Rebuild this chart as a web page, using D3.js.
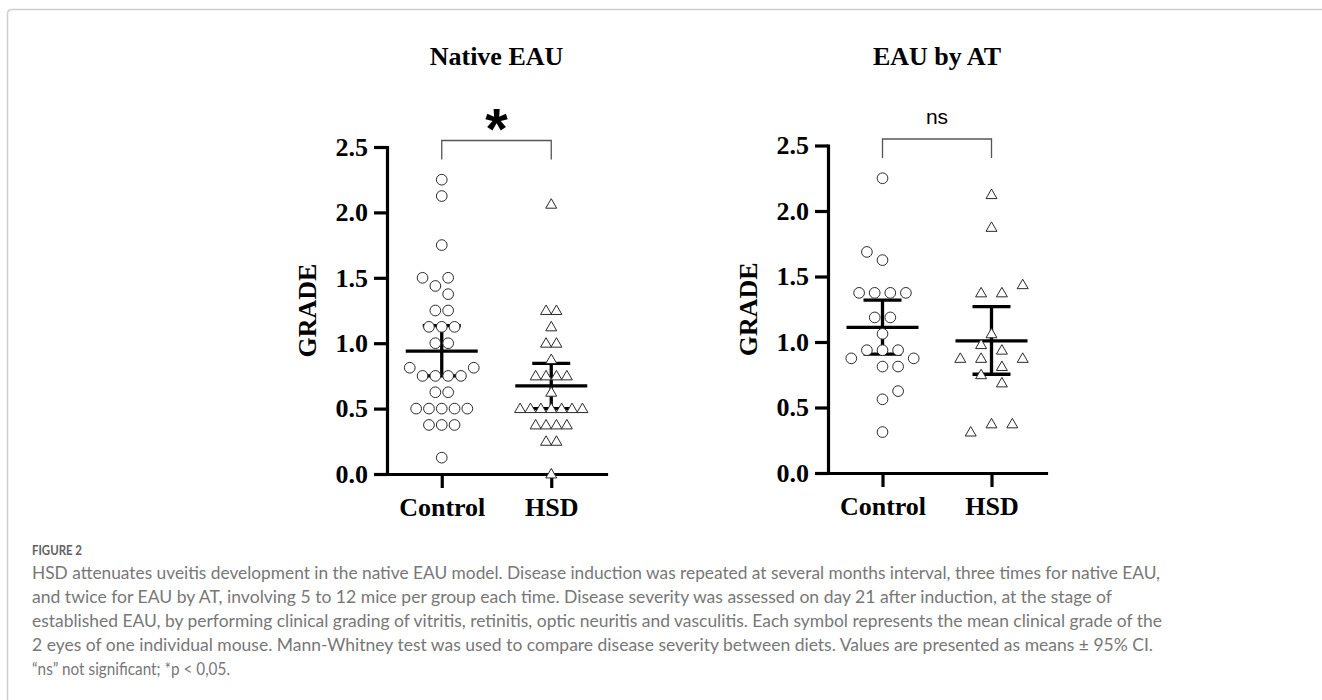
<!DOCTYPE html>
<html>
<head>
<meta charset="utf-8">
<script src="https://cdn.jsdelivr.net/npm/d3@7"></script>
<style>
  html, body { margin: 0; padding: 0; background: #fff; }
  #fig { width: 1322px; height: 700px; }
</style>
</head>
<body>
<div id="fig"></div>
<script>
// Scatter-dot plots of EAU clinical grade, Control vs HSD, two models side by side

const groups = ['Control', 'HSD'];
const yTicks = [0, 0.5, 1.0, 1.5, 2.0, 2.5];
const panelTitles = ['Native EAU', 'EAU by AT'];
const sigLabels = ['*', 'ns'];

// each point: [grade, column slot in the dot stack]
const nativeControl = [
  [2.25, 0], [2.125, 0], [1.75, 0],
  [1.5, -3], [1.5, 1], [1.4375, -1], [1.375, 1],
  [1.25, -1], [1.25, 1],
  [1.125, -2], [1.125, 0], [1.125, 2],
  [1.0, -1], [1.0, 1],
  [0.8125, -5], [0.8125, 5],
  [0.75, -3], [0.75, -1], [0.75, 1], [0.75, 3],
  [0.625, -1], [0.625, 1],
  [0.5, -4], [0.5, -2], [0.5, 0], [0.5, 2], [0.5, 4],
  [0.375, -2], [0.375, 0], [0.375, 2],
  [0.125, 0]
];
const nativeHSD = [
  [2.0625, 0],
  [1.25, -1], [1.25, 1],
  [1.125, 0],
  [1.0, -1], [1.0, 1],
  [0.875, 0],
  [0.75, -3], [0.75, -1], [0.75, 1], [0.75, 3],
  [0.625, 0],
  [0.5, -6], [0.5, -4], [0.5, -2], [0.5, 0], [0.5, 2], [0.5, 4], [0.5, 6],
  [0.375, -3], [0.375, -1], [0.375, 1], [0.375, 3],
  [0.25, -1], [0.25, 1],
  [0.0, 0]
];
const atControl = [
  [2.25, 0], [1.6875, -2], [1.625, 0],
  [1.375, -3], [1.375, -1], [1.375, 1], [1.375, 3],
  [1.1875, -1], [1.1875, 1],
  [1.0625, 0],
  [0.9375, -2], [0.9375, 0], [0.9375, 2],
  [0.875, -4], [0.875, 4],
  [0.8125, 0], [0.8125, 2],
  [0.625, 2], [0.5625, 0], [0.3125, 0]
];
const atHSD = [
  [2.125, 0], [1.875, 0], [1.4375, 3],
  [1.375, -1], [1.375, 1],
  [1.0625, 0], [0.98, -1], [0.9375, 1],
  [0.875, -3], [0.875, -1], [0.875, 3],
  [0.8125, 1], [0.75, -1], [0.6875, 1],
  [0.375, 0], [0.375, 2], [0.3125, -2]
];

// means and 95% CI per group
const nativeMean = [0.94, 0.674];
const nativeCI = [[0.75, 1.135], [0.50, 0.845]];
const atMean = [1.112, 1.008];
const atCI = [[0.907, 1.32], [0.754, 1.27]];

const captionHead = 'FIGURE 2';
const captionLines = [
  'HSD attenuates uveitis development in the native EAU model. Disease induction was repeated at several months interval, three times for native EAU,',
  'and twice for EAU by AT, involving 5 to 12 mice per group each time. Disease severity was assessed on day 21 after induction, at the stage of',
  'established EAU, by performing clinical grading of vitritis, retinitis, optic neuritis and vasculitis. Each symbol represents the mean clinical grade of the',
  '2 eyes of one individual mouse. Mann-Whitney test was used to compare disease severity between diets. Values are presented as means \u00B1 95% CI.',
  '\u201Cns\u201D not significant; *p < 0,05.'
];

(function(){
  const container = d3.select('#fig');
  const W = 1322, H = 700;
  const serif = "'Liberation Serif', 'Times New Roman', serif";
  const sans = "'Liberation Sans', Arial, sans-serif";

  const svg = container.append('svg').attr('width', W).attr('height', H);

  // light frame round the figure
  svg.append('path')
    .attr('d', 'M7.5,700 V14 Q7.5,9.5 12,9.5 H1322')
    .attr('fill', 'none').attr('stroke', '#cfcfcf').attr('stroke-width', 1.5);

  const panels = [
    { title: panelTitles[0], sig: sigLabels[0], pts: [nativeControl, nativeHSD], mean: nativeMean, ci: nativeCI,
      left: 387, right: 606, top: 147, bottom: 474, units: [6.4, 5.2], bracketY: 140.5 },
    { title: panelTitles[1], sig: sigLabels[1], pts: [atControl, atHSD], mean: atMean, ci: atCI,
      left: 828, right: 1046, top: 145.5, bottom: 473, units: [7.8, 10.4], bracketY: 139 }
  ];

  panels.forEach((p, pi) => {
    const x = d3.scalePoint().domain(groups).range([p.left, p.right]).padding(0.5);
    const y = d3.scaleLinear().domain([0, 2.5]).range([p.bottom, p.top]);
    const g = svg.append('g');

    // y axis
    const yAx = g.append('g').attr('transform', `translate(${p.left},0)`)
      .call(d3.axisLeft(y).tickValues(yTicks).tickFormat(d3.format('.1f')).tickSize(13).tickSizeOuter(0).tickPadding(6));
    // x axis
    const xAx = g.append('g').attr('transform', `translate(0,${p.bottom})`)
      .call(d3.axisBottom(x).tickSize(14).tickSizeOuter(0).tickPadding(10));
    [yAx, xAx].forEach(ax => {
      ax.select('.domain').attr('stroke', '#000').attr('stroke-width', 3.2).attr('stroke-linecap', 'square');
      ax.selectAll('.tick line').attr('stroke', '#000').attr('stroke-width', 3.2);
      ax.selectAll('.tick text').attr('fill', '#000')
        .style('font-family', serif).style('font-size', '26px').style('font-weight', 'bold');
    });

    // y label
    g.append('text')
      .attr('transform', `translate(${p.left - 71},${(p.top + p.bottom) / 2}) rotate(-90)`)
      .attr('text-anchor', 'middle')
      .style('font-family', serif).style('font-size', '26px').style('font-weight', 'bold')
      .text('GRADE');

    const xc = x(groups[0]), xh = x(groups[1]);

    // panel title
    g.append('text')
      .attr('x', (xc + xh) / 2).attr('y', 65)
      .attr('text-anchor', 'middle')
      .style('font-family', serif).style('font-size', '26px').style('font-weight', 'bold')
      .text(p.title);

    // significance bracket
    g.append('path')
      .attr('d', `M${xc},${p.bracketY + 19} V${p.bracketY} H${xh} V${p.bracketY + 19}`)
      .attr('fill', 'none').attr('stroke', '#555').attr('stroke-width', 1.3);
    if (p.sig === '*') {
      g.append('text')
        .attr('x', (xc + xh) / 2).attr('y', p.bracketY + 8)
        .attr('text-anchor', 'middle')
        .style('font-family', sans).style('font-size', '58px').style('font-weight', 'bold')
        .text(p.sig);
    } else {
      g.append('text')
        .attr('x', (xc + xh) / 2).attr('y', p.bracketY - 15)
        .attr('text-anchor', 'middle')
        .style('font-family', sans).style('font-size', '21px')
        .text(p.sig);
    }

    // mean and 95% CI bars
    groups.forEach((grp, gi) => {
      const cx = x(grp);
      const bars = g.append('g').attr('stroke', '#000').attr('stroke-width', 3.3).attr('fill', 'none');
      bars.append('line').attr('x1', cx - 36).attr('x2', cx + 36).attr('y1', y(p.mean[gi])).attr('y2', y(p.mean[gi]));
      bars.append('line').attr('x1', cx).attr('x2', cx).attr('y1', y(p.ci[gi][0])).attr('y2', y(p.ci[gi][1]));
      p.ci[gi].forEach(v => {
        bars.append('line').attr('x1', cx - 19).attr('x2', cx + 19).attr('y1', y(v)).attr('y2', y(v));
      });
    });

    // dots: circles for Control, triangles for HSD
    groups.forEach((grp, gi) => {
      const cx = x(grp);
      const unit = p.units[gi];
      const sym = d3.symbol().type(gi === 0 ? d3.symbolCircle : d3.symbolTriangle).size(gi === 0 ? 90 : 52);
      g.append('g').selectAll('path')
        .data(p.pts[gi])
        .enter()
        .append('path')
        .attr('d', sym)
        .attr('transform', d => `translate(${cx + d[1] * unit},${y(d[0]) + (gi === 1 ? 0.8 : 0)})`)
        .attr('fill', '#fff')
        .attr('stroke', '#2a2a2a')
        .attr('stroke-width', 1);
    });
  });

  // caption
  const cap = svg.append('g').style('font-family', "Lato, 'Open Sans', sans-serif");
  cap.append('text')
    .attr('x', 32).attr('y', 555)
    .attr('fill', '#606060')
    .attr('textLength', 50).attr('lengthAdjust', 'spacingAndGlyphs')
    .style('font-size', '14px').style('font-weight', 'bold')
    .text(captionHead);
  const lineEnds = [1160, 1112, 1162, 1153, 230];
  captionLines.forEach((t, i) => {
    cap.append('text')
      .attr('x', 32).attr('y', 578.5 + i * 24)
      .attr('fill', '#777')
      .attr('textLength', lineEnds[i] - 32).attr('lengthAdjust', 'spacingAndGlyphs')
      .style('font-size', '16.5px')
      .text(t);
  });
})();
</script>
</body>
</html>
